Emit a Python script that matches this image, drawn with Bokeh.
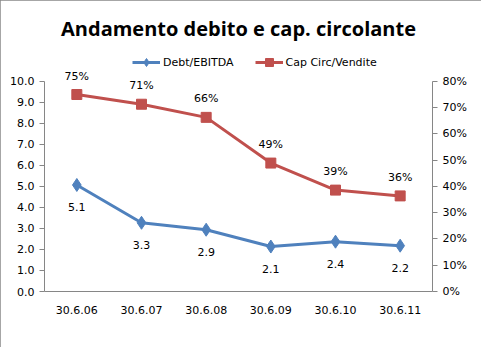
from bokeh.plotting import figure
from bokeh.models import (FactorRange, Range1d, LinearAxis, NumeralTickFormatter,
                          ColumnDataSource, LabelSet, Legend, LegendItem, Title,
                          FixedTicker, InlineStyleSheet)
from bokeh.core.properties import value
from bokeh.embed import file_html
from bokeh.resources import INLINE

categories = ["30.6.06", "30.6.07", "30.6.08", "30.6.09", "30.6.10", "30.6.11"]
debt_ebitda = [5.07, 3.27, 2.94, 2.14, 2.37, 2.18]
cap_circ = [0.75, 0.713, 0.663, 0.489, 0.386, 0.364]
left_ticks = [0, 1, 2, 3, 4, 5, 6, 7, 8, 9, 10]
right_ticks = [0, 0.1, 0.2, 0.3, 0.4, 0.5, 0.6, 0.7, 0.8]
title_text = "Andamento debito e cap. circolante"

FONT = "DejaVu Sans"
BLUE = "#4F81BD"
RED = "#C0504D"

# frame spans canvas y 52..291; axes drawn only over 0..10 (80 px top -> 291)
FRAME_TOP = 52
AXIS_TOP = 80
BOTTOM = 291
stretch = (BOTTOM - FRAME_TOP) / (BOTTOM - AXIS_TOP)

src = ColumnDataSource(dict(
    x=categories, d=debt_ebitda, c=cap_circ,
    dl=[f"{v:.1f}" for v in debt_ebitda],
    cl=[f"{round(v*100):.0f}%" for v in cap_circ],
))

p = figure(width=481, height=347, x_range=FactorRange(*categories),
           y_range=Range1d(0, left_ticks[-1] * stretch), output_backend="svg",
           toolbar_location=None,
           min_border_left=44, min_border_right=49, min_border_bottom=347 - BOTTOM,
           min_border_top=FRAME_TOP)
p.extra_y_ranges = {"pct": Range1d(0, right_ticks[-1] * stretch)}
p.stylesheets = [InlineStyleSheet(css=":host { outline: 1px solid #888888; outline-offset: -1px; }")]

p.title = Title(text=title_text, align="center", text_font="Open Sans", text_font_size="20px",
                text_font_style="bold", text_color="#000000", standoff=24)

p.xgrid.visible = False
p.ygrid.visible = False
p.outline_line_color = None

ya = p.yaxis[0]
ya.ticker = FixedTicker(ticks=left_ticks)
ya.bounds = (left_ticks[0], left_ticks[-1])
ya.formatter = NumeralTickFormatter(format="0.0")
ya.minor_tick_line_color = None
ya.major_tick_out = 5
ya.major_tick_in = 0
ya.axis_line_color = "#868686"
ya.major_tick_line_color = "#868686"
ya.major_label_text_font = FONT
ya.major_label_text_font_size = "11px"
ya.major_label_text_color = "#000000"

ra = LinearAxis(y_range_name="pct", ticker=FixedTicker(ticks=right_ticks),
                formatter=NumeralTickFormatter(format="0%"),
                bounds=(right_ticks[0], right_ticks[-1]))
ra.minor_tick_line_color = None
ra.major_tick_out = 5
ra.major_tick_in = 0
ra.axis_line_color = "#868686"
ra.major_tick_line_color = "#868686"
ra.major_label_text_font = FONT
ra.major_label_text_font_size = "11px"
ra.major_label_text_color = "#000000"
p.add_layout(ra, "right")

xa = p.xaxis[0]
xa.major_tick_line_color = None
xa.axis_line_color = "#868686"
xa.major_label_text_font = FONT
xa.major_label_text_font_size = "11px"
xa.major_label_text_color = "#000000"
xa.major_label_standoff = 8

l1 = p.line("x", "d", source=src, line_color=BLUE, line_width=3)
m1 = p.scatter("x", "d", source=src, marker="diamond", size=13, fill_color=BLUE, line_color=BLUE)
l2 = p.line("x", "c", source=src, line_color=RED, line_width=3, y_range_name="pct")
m2 = p.scatter("x", "c", source=src, marker="square", size=10, fill_color=RED, line_color=RED,
               y_range_name="pct")

p.add_layout(LabelSet(x="x", y="d", text="dl", source=src, y_offset=-26, text_align="center",
                      text_font=value(FONT), text_font_size="11px", text_color="#000000"))
p.add_layout(LabelSet(x="x", y="c", text="cl", source=src, y_offset=12, text_align="center",
                      text_font=value(FONT), text_font_size="11px", text_color="#000000",
                      y_range_name="pct"))

legend = Legend(items=[LegendItem(label="Debt/EBITDA", renderers=[l1, m1]),
                       LegendItem(label="Cap Circ/Vendite", renderers=[l2, m2])],
                orientation="horizontal", location=(88, BOTTOM - 72),
                label_text_font=FONT, label_text_font_size="11px", label_standoff=3,
                label_text_color="#000000",
                glyph_width=28, spacing=21, padding=2, margin=0,
                border_line_color=None, background_fill_alpha=0)
p.add_layout(legend, "center")

open("out.html", "w").write(file_html(p, INLINE))
